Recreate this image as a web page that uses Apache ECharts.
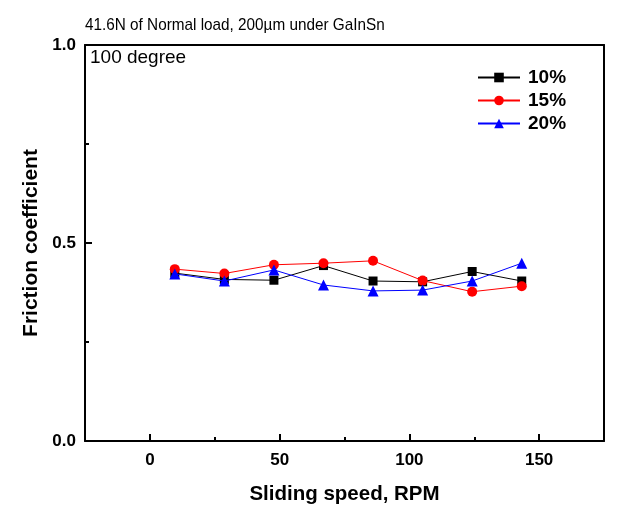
<!DOCTYPE html>
<html>
<head>
<meta charset="utf-8">
<script src="https://cdn.jsdelivr.net/npm/echarts@6/dist/echarts.min.js"></script>
<style>html,body{margin:0;padding:0;background:#fff}#c{width:628px;height:514px}</style>
</head>
<body>
<div id="c"></div>
<script>
const speeds = [9.6, 28.7, 47.8, 66.9, 86.0, 105.1, 124.2, 143.3];
const s10 = [0.424, 0.408, 0.406, 0.443, 0.404, 0.402, 0.428, 0.404];
const s15 = [0.434, 0.423, 0.445, 0.449, 0.455, 0.405, 0.377, 0.391];
const s20 = [0.422, 0.404, 0.432, 0.394, 0.379, 0.381, 0.404, 0.449];
const seriesNames = ['10%', '15%', '20%'];
const xMajor = [0, 50, 100, 150];
const xMinor = [25, 75, 125];
const titleText = '41.6N of Normal load, 200\u00b5m under GaInSn';
const noteText = '100 degree';

const FONT = '"Liberation Sans", Arial, sans-serif';
const pair = (ys) => speeds.map((x, i) => [x, ys[i]]);

const chart = echarts.init(document.getElementById('c'));
chart.setOption({
  animation: false,
  backgroundColor: '#fff',
  textStyle: { fontFamily: FONT },
  graphic: [{
    type: 'text', x: 85, y: 17, scaleX: 0.9,
    style: { text: titleText, font: '17px ' + FONT, fill: '#000' }
  }, {
    type: 'text', left: 90, top: 48,
    style: { text: noteText, font: '19px ' + FONT, fill: '#000' }
  }],
  legend: {
    orient: 'vertical', left: 472, top: 63, itemWidth: 42, itemHeight: 12, itemGap: 4,
    data: seriesNames,
    textStyle: { fontFamily: FONT, fontSize: 19, fontWeight: 'bold', color: '#000', padding: [0, 0, 0, 3] }
  },
  grid: { left: 85, top: 45, right: 24, bottom: 73 },
  xAxis: [{
    type: 'value', min: -25, max: 175, interval: 25, position: 'bottom',
    name: 'Sliding speed, RPM', nameLocation: 'middle', nameGap: 43,
    nameTextStyle: { fontFamily: FONT, fontSize: 20.5, fontWeight: 'bold', color: '#000' },
    axisLine: { show: true, onZero: false, lineStyle: { color: '#000', width: 2 } },
    axisTick: { show: true, inside: true, length: 7, customValues: xMajor, lineStyle: { color: '#000', width: 2 } },
    axisLabel: { customValues: xMajor, margin: 11, fontFamily: FONT, fontSize: 17, fontWeight: 'bold', color: '#000' },
    splitLine: { show: false }
  }, {
    type: 'value', min: -25, max: 175, interval: 25, position: 'bottom',
    axisLine: { show: false, onZero: false },
    axisTick: { show: true, inside: true, length: 4, customValues: xMinor, lineStyle: { color: '#000', width: 2 } },
    axisLabel: { show: false }, splitLine: { show: false }
  }, {
    type: 'value', min: -25, max: 175, position: 'top',
    axisLine: { show: true, onZero: false, lineStyle: { color: '#000', width: 2 } },
    axisTick: { show: false }, axisLabel: { show: false }, splitLine: { show: false }
  }],
  yAxis: [{
    type: 'value', min: 0, max: 1, interval: 0.5, position: 'left',
    name: 'Friction coefficient', nameLocation: 'middle', nameGap: 40,
    nameTextStyle: { fontFamily: FONT, fontSize: 21, fontWeight: 'bold', color: '#000' },
    axisLine: { show: true, onZero: false, lineStyle: { color: '#000', width: 2 } },
    axisTick: { show: true, inside: true, length: 7, lineStyle: { color: '#000', width: 2 } },
    minorTick: { show: true, splitNumber: 2, length: 4, lineStyle: { color: '#000', width: 2 } },
    axisLabel: { margin: 9, fontFamily: FONT, fontSize: 17, fontWeight: 'bold', color: '#000', formatter: v => v.toFixed(1) },
    splitLine: { show: false }
  }, {
    type: 'value', min: 0, max: 1, position: 'right',
    axisLine: { show: true, onZero: false, lineStyle: { color: '#000', width: 2 } },
    axisTick: { show: false }, axisLabel: { show: false }, splitLine: { show: false }
  }],
  series: [
    { name: seriesNames[0], type: 'line', data: pair(s10), symbol: 'rect', symbolSize: 9,
      itemStyle: { color: '#000' }, lineStyle: { color: '#000', width: 1 }, z: 3 },
    { name: seriesNames[1], type: 'line', data: pair(s15), symbol: 'circle', symbolSize: 10,
      itemStyle: { color: '#ff0000' }, lineStyle: { color: '#ff0000', width: 1 }, z: 4 },
    { name: seriesNames[2], type: 'line', data: pair(s20), symbol: 'triangle', symbolSize: 11,
      itemStyle: { color: '#0000ff' }, lineStyle: { color: '#0000ff', width: 1 }, z: 5 }
  ]
});
</script>
</body>
</html>
